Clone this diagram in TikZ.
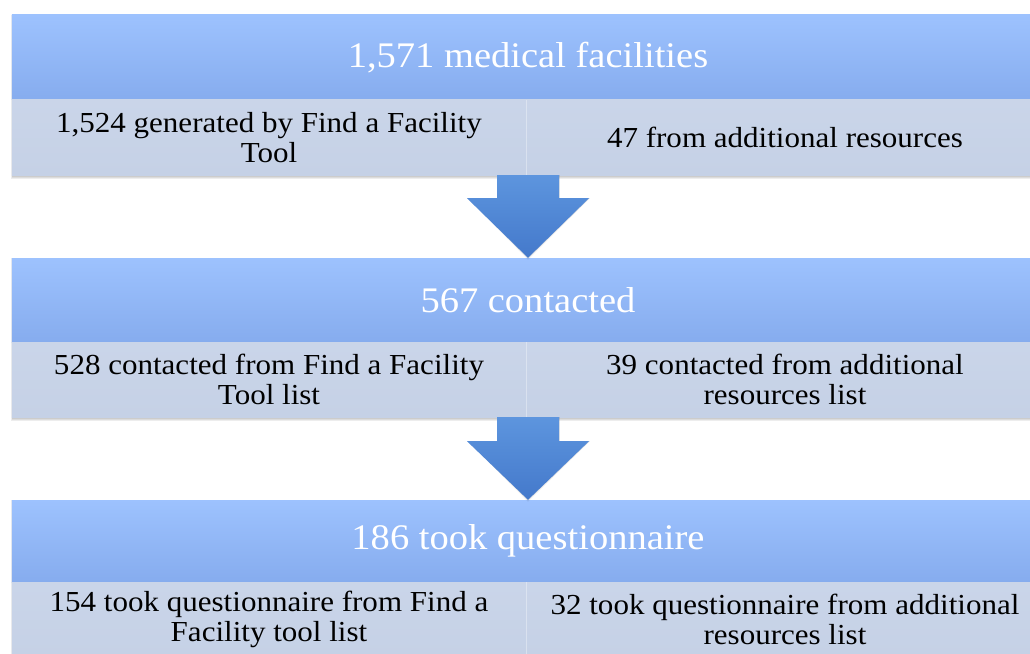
\documentclass[tikz,border=0pt]{standalone}
\usepackage{fontspec}
\setmainfont{Liberation Serif}[FakeStretch=1.07]
\usetikzlibrary{calc,backgrounds}
\definecolor{hdtop}{HTML}{9DC2FE}
\definecolor{hdmid}{HTML}{97BCFA}
\definecolor{hdbot}{HTML}{86ACEE}
\definecolor{subtop}{HTML}{CAD5E9}
\definecolor{subbot}{HTML}{C5D1E6}
\definecolor{arrtop}{HTML}{5D95DE}
\definecolor{arrbot}{HTML}{4479CB}
\tikzset{
  header/.style={minimum width=1032bp, minimum height=#1, inner sep=0pt,
    top color=hdtop, middle color=hdmid, bottom color=hdbot, text=white,
    font=\fontsize{36bp}{40bp}\selectfont},
  subcell/.style={minimum height=75bp, inner sep=0pt, align=center,
    top color=subtop, bottom color=subbot, text=black,
    font=\fontsize{29bp}{30bp}\selectfont},
  leftcell/.style={subcell, minimum width=514bp},
  rightcell/.style={subcell, minimum width=518bp},
  softshadow/.style={fill=black, opacity=0.07},
  blockarrow/.style={top color=arrtop, bottom color=arrbot},
  divider/.style={white, opacity=0.35, line width=1.2bp}
}
\begin{document}
\begin{tikzpicture}[x=1bp, y=-1bp]
\useasboundingbox (0,0) rectangle (1030,654);
% band 1
\node[header=85bp] (head1) at (528,57.5) {1,571 medical facilities};
\node[leftcell] (sub1l) at (269,137.5) {1,524 generated by Find a Facility\\Tool};
\node[rightcell] (sub1r) at (785,137.5) {47 from additional resources};
% band 2
\node[header=84bp] (head2) at (528,300) {567 contacted};
\node[leftcell] (sub2l) at (269,379.5) {528 contacted from Find a Facility\\Tool list};
\node[rightcell] (sub2r) at (785,379.5) {39 contacted from additional\\resources list};
% band 3
\node[header=82bp] (head3) at (528,541) {186 took questionnaire};
\node[leftcell] (sub3l) at (269,619.5) {154 took questionnaire from Find a\\Facility tool list};
\node[rightcell] (sub3r) at (785,619.5) {32 took questionnaire from additional\\resources list};
% dividers
\draw[divider] (sub1l.north east) -- (sub1l.south east);
\draw[divider] (sub2l.north east) -- (sub2l.south east);
\draw[divider] (sub3l.north east) -- (sub3l.south east);
% soft shadows below the bands
\begin{scope}[on background layer]
  \foreach \b in {1,2,3}{
    \foreach \d in {1,2,3,4}{
      \fill[softshadow] ($(head\b.north west)+(\d*0.5-1,\d*0.5)$)
        rectangle ($(sub\b r.south east)+(\d*0.3,5-\d)$);
    }
  }
\end{scope}
% arrows
\coordinate (a1s) at (head1.center |- sub1l.south);
\coordinate (a1t) at (head1.center |- head2.north);
\coordinate (a2s) at (head2.center |- sub2l.south);
\coordinate (a2t) at (head2.center |- head3.north);
\foreach \d in {1,2,3}{
  \fill[softshadow, opacity=0.05] ($(a1s)+(-31+\d*0.3,0)$) -- ++(0,23) -- ++(-30,0) -- ($(a1t)+(0,\d-1)$)
    -- ($(a1s)+(61+\d*0.3,23)$) -- ++(-30,0) -- ($(a1s)+(31+\d*0.3,0)$) -- cycle;
  \fill[softshadow, opacity=0.05] ($(a2s)+(-31+\d*0.3,0)$) -- ++(0,24) -- ++(-30,0) -- ($(a2t)+(0,\d-1)$)
    -- ($(a2s)+(61+\d*0.3,24)$) -- ++(-30,0) -- ($(a2s)+(31+\d*0.3,0)$) -- cycle;
}
\path[blockarrow] (a1s) ++(-31,0) -- ++(0,23) -- ++(-30,0) -- (a1t)
  -- ($(a1s)+(61,23)$) -- ++(-30,0) -- ($(a1s)+(31,0)$) -- cycle;
\path[blockarrow] (a2s) ++(-31,0) -- ++(0,24) -- ++(-30,0) -- (a2t)
  -- ($(a2s)+(61,24)$) -- ++(-30,0) -- ($(a2s)+(31,0)$) -- cycle;
\end{tikzpicture}
\end{document}
